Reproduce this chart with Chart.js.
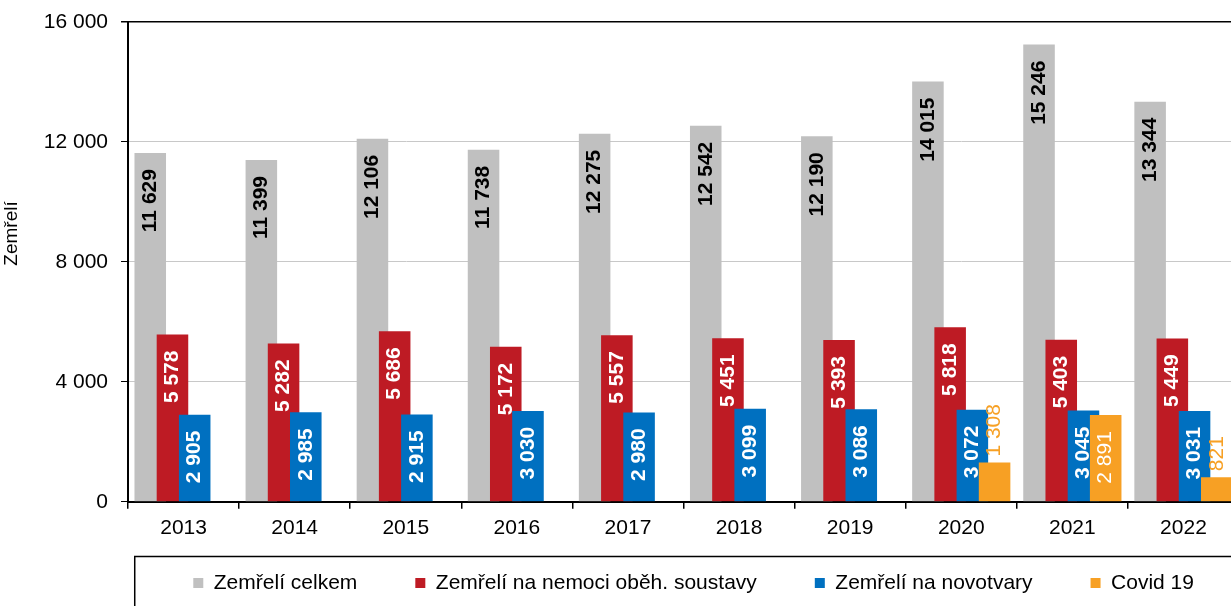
<!DOCTYPE html>
<html><head><meta charset="utf-8">
<script src="https://cdn.jsdelivr.net/npm/chart.js@4/dist/chart.umd.min.js"></script>
<style>html,body{margin:0;padding:0;overflow:hidden;background:#fff}canvas{display:block}</style>
</head><body>
<canvas id="c" width="1300" height="636"></canvas>
<script>
const categories = ['2013','2014','2015','2016','2017','2018','2019','2020','2021','2022'];
const totalDeaths = [11629, 11399, 12106, 11738, 12275, 12542, 12190, 14015, 15246, 13344];
const circulatoryDeaths = [5578, 5282, 5686, 5172, 5557, 5451, 5393, 5818, 5403, 5449];
const cancerDeaths = [2905, 2985, 2915, 3030, 2980, 3099, 3086, 3072, 3045, 3031];
const covidDeaths = [null, null, null, null, null, null, null, 1308, 2891, 821];
const seriesNames = ['Zemřelí celkem', 'Zemřelí na nemoci oběh. soustavy', 'Zemřelí na novotvary', 'Covid 19'];
const yTicks = [0, 4000, 8000, 12000, 16000];
const yTitle = 'Zemřelí';

const FONT = '"Liberation Sans", Arial, Helvetica, sans-serif';
Chart.defaults.font.family = FONT;
Chart.defaults.color = '#000';

const colors = ['#c0c0c0', '#be1b24', '#0070c0', '#f7a024'];
const labelStyles = [
  {weight: 'bold', color: '#000'},
  {weight: 'bold', color: '#fff'},
  {weight: 'bold', color: '#fff'},
  {weight: 'normal', color: '#f7a024', insideColor: '#fff', outsideWhenSmall: true}
];
const fmt = v => String(v).replace(/\B(?=(\d{3})+(?!\d))/g, ' ');

const seriesData = [totalDeaths, circulatoryDeaths, cancerDeaths, covidDeaths];

const drawOrderPlugin = {
  id: 'drawOrder',
  afterLayout(chart) {
    const lg = chart.legend, a = chart.chartArea;
    const pad = lg.options.labels.padding;
    const dy = 572.5 - (lg.top + pad);
    lg.top += dy; lg.bottom += dy;
    lg.left = a.left + 6.7;
    lg.right = a.right + 13.5;
  },
  beforeDatasetDraw() { return false; },
  afterDatasetsDraw(chart) {
    const ctx = chart.ctx, a = chart.chartArea;
    ctx.save();
    ctx.beginPath();
    ctx.rect(a.left, a.top, a.right - a.left, a.bottom - a.top);
    ctx.clip();
    chart.data.datasets.forEach((ds, i) => {
      const meta = chart.getDatasetMeta(i);
      if (!meta.hidden) meta.controller.draw();
    });
    ctx.restore();
    // data labels
    chart.data.datasets.forEach((ds, i) => {
      const meta = chart.getDatasetMeta(i);
      const st = labelStyles[i];
      ctx.save();
      ctx.font = st.weight + ' 21px ' + FONT;
      ctx.textBaseline = 'middle';
      meta.data.forEach((bar, j) => {
        const v = ds.data[j];
        if (v === null || v === undefined) return;
        const txt = fmt(v);
        const w = ctx.measureText(txt).width;
        const h = bar.base - bar.y;
        let inside = true;
        if (st.outsideWhenSmall && h < w + 24) inside = false;
        ctx.save();
        if (inside) {
          ctx.translate(bar.x, bar.y + 16);
          ctx.rotate(-Math.PI / 2);
          ctx.textAlign = 'right';
          ctx.fillStyle = st.insideColor || st.color;
        } else {
          ctx.translate(bar.x, bar.y - 6);
          ctx.rotate(-Math.PI / 2);
          ctx.textAlign = 'left';
          ctx.fillStyle = st.color;
        }
        ctx.fillText(txt, 0, 0);
        ctx.restore();
      });
      ctx.restore();
    });
  },
  afterDraw(chart) {
    const ctx = chart.ctx;
    // y axis title
    ctx.save();
    ctx.translate(12, 233.5);
    ctx.rotate(-Math.PI / 2);
    ctx.font = '19px ' + FONT;
    ctx.fillStyle = '#000';
    ctx.textAlign = 'center';
    ctx.textBaseline = 'middle';
    ctx.fillText(yTitle, 0, 0);
    ctx.restore();
    // legend frame
    ctx.save();
    ctx.strokeStyle = '#000';
    ctx.lineWidth = 1.5;
    ctx.beginPath();
    const bx = chart.legend.left, by = 556.5;
    ctx.moveTo(chart.width + 5, by);
    ctx.lineTo(bx, by);
    ctx.lineTo(bx, chart.height + 5);
    ctx.stroke();
    ctx.restore();
  }
};

new Chart(document.getElementById('c'), {
  type: 'bar',
  data: {
    labels: categories,
    datasets: seriesData.map((d, i) => ({
      label: seriesNames[i],
      data: d,
      backgroundColor: colors[i],
      borderWidth: 0,
      categoryPercentage: 0.8,
      barPercentage: 1.42
    }))
  },
  options: {
    responsive: false,
    animation: false,
    layout: {padding: {left: 30.8, right: 61, top: 10, bottom: 0}},
    plugins: {
      legend: {
        position: 'bottom',
        fullSize: true,
        labels: {boxWidth: 10, boxHeight: 10, padding: 58, color: '#000', font: {size: 21}}
      },
      tooltip: {enabled: false}
    },
    scales: {
      x: {
        z: 1,
        grid: {display: true, drawOnChartArea: false, drawTicks: true, tickLength: 7, tickColor: '#000', lineWidth: 1.5},
        border: {display: true, color: '#000', width: 2},
        ticks: {color: '#000', font: {size: 21}, padding: 6.5}
      },
      y: {
        min: 0, max: 16000,
        afterBuildTicks: axis => { axis.ticks = yTicks.map(v => ({value: v})); },
        grid: {
          color: c => (c.tick && (c.tick.value === 16000 || c.tick.value === 0)) ? '#000' : '#c8c8c8',
          lineWidth: c => (c.tick && c.tick.value === 16000) ? 1.5 : 1,
          tickColor: '#000', tickLength: 7
        },
        border: {display: true, color: '#000', width: 2},
        ticks: {color: '#000', font: {size: 21, lineHeight: '18px'}, padding: 13, callback: v => fmt(v)}
      }
    }
  },
  plugins: [drawOrderPlugin]
});
</script>
</body></html>
